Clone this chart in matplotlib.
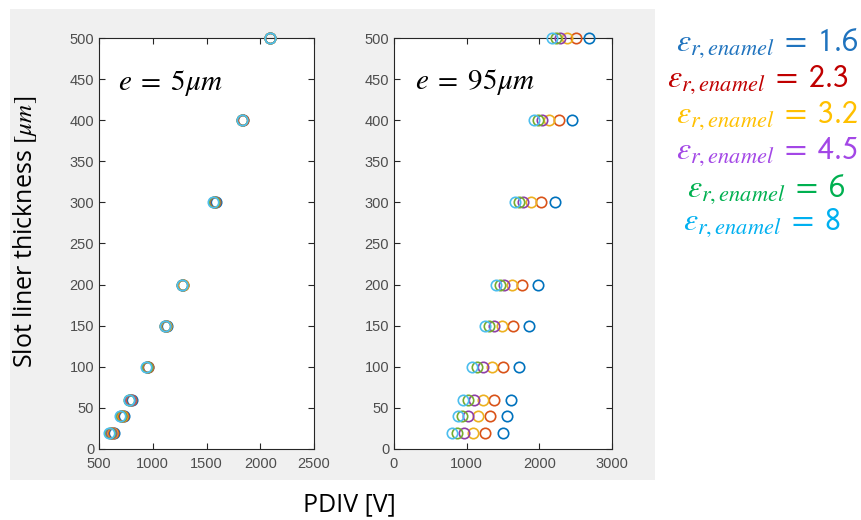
import numpy as np
import matplotlib.pyplot as plt
from matplotlib.patches import Rectangle

plt.rcParams['mathtext.fontset'] = 'stix'

# slot liner thickness [um]
thickness = [20, 40, 60, 100, 150, 200, 300, 400, 500]

# relative permittivity of the enamel
eps_labels = ['1.6', '2.3', '3.2', '4.5', '6', '8']

# PDIV [V] for e = 5 um, one list per permittivity
pdiv_5 = [
    [635, 728, 805, 960, 1128, 1285, 1585, 1840, 2090],
    [628, 722, 800, 955, 1125, 1282, 1580, 1837, 2089],
    [618, 714, 792, 950, 1121, 1279, 1574, 1833, 2088],
    [610, 706, 786, 946, 1118, 1276, 1570, 1830, 2088],
    [603, 700, 780, 942, 1115, 1274, 1566, 1828, 2087],
    [597, 695, 775, 938, 1112, 1272, 1562, 1826, 2087],
]

# PDIV [V] for e = 95 um
pdiv_95 = [
    [1495, 1560, 1615, 1725, 1853, 1982, 2216, 2454, 2683],
    [1252, 1317, 1381, 1495, 1638, 1766, 2023, 2271, 2500],
    [1092, 1161, 1220, 1344, 1486, 1628, 1890, 2138, 2376],
    [959, 1023, 1096, 1229, 1381, 1514, 1775, 2041, 2280],
    [867, 940, 1014, 1142, 1312, 1454, 1720, 1977, 2225],
    [803, 876, 954, 1078, 1248, 1399, 1661, 1931, 2179],
]

marker_colors = ['#0072BD', '#D95319', '#EDB120', '#8E3FA8', '#77AC30', '#4DBEEE']
text_colors = ['#1F73BE', '#C00000', '#FFC000', '#A347E6', '#00B050', '#00B0F0']

W, H = 861, 520
fig = plt.figure(figsize=(W / 100, H / 100), dpi=100)
fig.patch.set_facecolor('white')

# grey MATLAB-like figure area, drawn behind the axes
bg = fig.add_axes([0, 0, 1, 1], zorder=-10)
bg.axis('off')
bg.set_xlim(0, 1)
bg.set_ylim(0, 1)
bg.add_patch(Rectangle((10 / W, 1 - 480 / H), 645 / W, 471 / H,
                       facecolor='#f0f0f0', edgecolor='none'))

ax1 = fig.add_axes([99 / W, 1 - 449 / H, 215 / W, 411 / H])
ax2 = fig.add_axes([394 / W, 1 - 449 / H, 218 / W, 411 / H])


def style(ax, xlim, xticks):
    ax.set_facecolor('white')
    ax.set_xlim(*xlim)
    ax.set_ylim(0, 500)
    ax.set_xticks(xticks)
    ax.set_yticks(np.arange(0, 501, 50))
    ax.tick_params(direction='in', top=True, right=True, length=4,
                   width=0.8, colors='#262626', labelcolor='#4d4d4d',
                   labelsize=10.5)
    ax.tick_params(axis='x', pad=6)
    for s in ax.spines.values():
        s.set_color('#262626')
        s.set_linewidth(0.8)
    for lab in ax.get_xticklabels() + ax.get_yticklabels():
        lab.set_family('Liberation Sans')


for data, ax in [(pdiv_5, ax1), (pdiv_95, ax2)]:
    for vals, c in zip(data, marker_colors):
        ax.plot(vals, thickness, 'o', mfc='none', mec=c, ms=7.5, mew=1.2,
                clip_on=False, zorder=3)

style(ax1, (500, 2500), [500, 1000, 1500, 2000, 2500])
style(ax2, (0, 3000), [0, 1000, 2000, 3000])

fig.text(118 / W, 1 - 83 / H, r'$e\;=\;5\mu m$', fontsize=21,
         va='center', ha='left')
fig.text(415 / W, 1 - 82 / H, r'$e\;=\;95\mu m$', fontsize=21,
         va='center', ha='left')

fig.text(25 / W, 1 - 232 / H, r'Slot liner thickness $[\mu m]$', rotation=90,
         fontsize=18, family='Open Sans', va='center', ha='center')
fig.text(349 / W, 1 - 505 / H, 'PDIV [V]', fontsize=18, family='Open Sans',
         va='center', ha='center')

y_pos = [43, 80, 116, 152, 189, 223]
x_pos = [767, 758, 767, 767, 766, 762]
for lab, c, x, y in zip(eps_labels, text_colors, x_pos, y_pos):
    fig.text(x / W, 1 - y / H,
             r'$\varepsilon_{r,enamel}\;=\;\mathsf{%s}$' % lab,
             color=c, fontsize=23, va='center', ha='center')

fig.savefig('out.png', dpi=100)
